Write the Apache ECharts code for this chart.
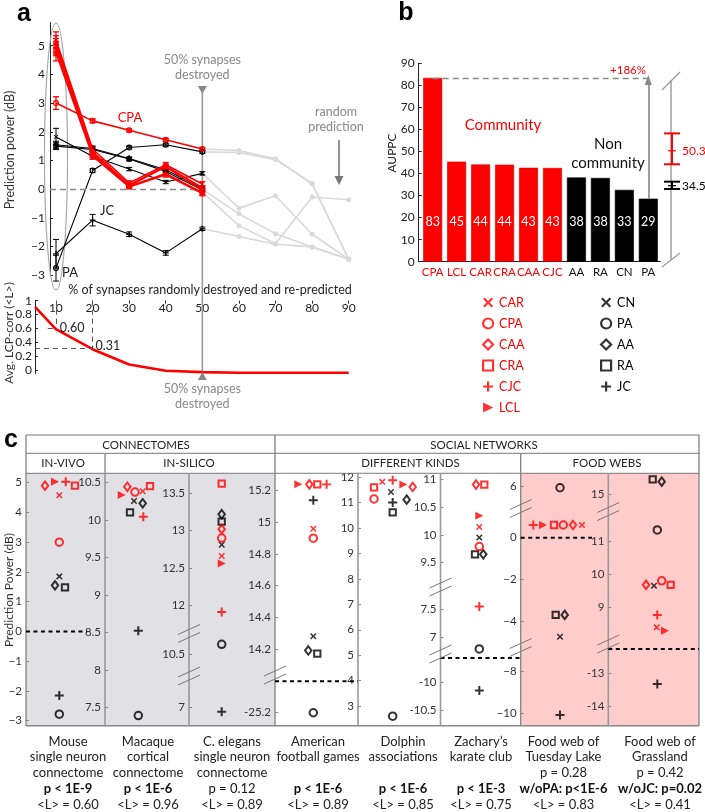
<!DOCTYPE html>
<html><head><meta charset="utf-8">
<script src="https://cdn.jsdelivr.net/npm/echarts@6/dist/echarts.min.js"></script>
<style>html,body{margin:0;padding:0;background:#fff}#c{width:705px;height:812px}</style>
</head><body><div id="c"></div><script>
// ================= DATA =================
// ---- panel a (prediction power vs % synapses removed) ----
const pctRemoved = [10, 20, 30, 40, 50];
const pctRemovedTail = [50, 60, 70, 80, 90];
const ppCPA = [3.0, 2.38, 2.05, 1.72, 1.4];
const ppCAR = [5.2, 1.4, 0.22, 0.85, 0.18];
const ppCAA = [5.1, 1.3, 0.15, 0.8, 0.05];
const ppCRA = [5.0, 1.25, 0.12, 0.78, -0.05];
const ppCJC = [4.9, 1.2, 0.1, 0.55, -0.12];
const ppLCL = [4.75, 1.15, 0.08, 0.5, -0.15];
const ppCN = [1.82, 1.15, 0.7, 0.25, 0.55];
const ppAA = [1.55, 1.42, 1.07, 0.68, 0.02];
const ppRA = [1.5, 1.38, 1.05, 0.62, -0.03];
const ppPA = [-2.75, 0.65, 1.45, 1.55, 1.3];
const ppJC = [-2.25, -1.08, -1.57, -2.22, -1.38];
const errCPA = [0.22, 0.07, 0.05, 0.05, 0.05];
const errCAR = [0.28, 0.1, 0.07, 0.08, 0.08];
const errCAA = [0.25, 0.08, 0.06, 0.07, 0.07];
const errCRA = [0.25, 0.08, 0.06, 0.07, 0.07];
const errCJC = [0.25, 0.08, 0.06, 0.07, 0.07];
const errLCL = [0.28, 0.1, 0.07, 0.08, 0.08];
const errCN = [0.3, 0.1, 0.06, 0.06, 0.06];
const errAA = [0.12, 0.08, 0.05, 0.05, 0.05];
const errRA = [0.12, 0.08, 0.05, 0.05, 0.05];
const errPA = [0.45, 0.07, 0.05, 0.05, 0.05];
const errJC = [0.5, 0.2, 0.08, 0.08, 0.06];
const tail1 = [1.4, 1.35, 1.06, 0.18, -2.44];
const tail2 = [1.3, 1.28, 1.03, 0.2, -2.44];
const tail3 = [0.55, -0.66, -0.23, -1.57, -2.44];
const tail4 = [0.0, -0.86, -1.55, -2.01, -2.44];
const tail5 = [-0.1, -1.27, -1.9, -0.27, -0.37];
const tail6 = [-1.38, -1.65, -1.92, -2.01, -2.44];
const ppTicks = [-3, -2, -1, 0, 1, 2, 3, 4, 5];
// ---- panel a (bottom) average LCP correlation ----
const lcpX = [4.3, 10, 20, 30, 40, 50, 60, 70, 80, 90];
const lcpCorr = [0.91, 0.59, 0.30, 0.08, -0.01, -0.03, -0.04, -0.04, -0.04, -0.04];
const lcpTicks = [0, 0.2, 0.4, 0.6, 0.8, 1];
const pctTicks = [10, 20, 30, 40, 50, 60, 70, 80, 90];
const lcpMarkX = [10, 20];
const lcpMarkL = [0.60, 0.31];
// ---- panel b ----
const bMethods = ['CPA', 'LCL', 'CAR', 'CRA', 'CAA', 'CJC', 'AA', 'RA', 'CN', 'PA'];
const bAUPPC = [83.4, 45.4, 44.1, 44.0, 42.6, 42.5, 38.2, 38.0, 32.6, 28.6];
const bCommunity = [1, 1, 1, 1, 1, 1, 0, 0, 0, 0];
const bTicks = [0, 10, 20, 30, 40, 50, 60, 70, 80, 90];
const groupMean = [50.3, 34.5];
const groupLo = [44.2, 33.0];
const groupHi = [58.2, 36.3];
// ---- panel c ----
const netNames = [
  ['Mouse', 'single neuron', 'connectome'],
  ['Macaque', 'cortical', 'connectome'],
  ['C. elegans', 'single neuron', 'connectome'],
  ['American', 'football games', ''],
  ['Dolphin', 'associations', ''],
  ['Zachary\u2019s', 'karate club', ''],
  ['Food web of', 'Tuesday Lake', 'p = 0.28'],
  ['Food web of', 'Grassland', 'p = 0.42']
];
const netP = ['p < 1E-9', 'p < 1E-6', 'p = 0.12', 'p < 1E-6', 'p < 1E-6', 'p < 1E-3', 'w/oPA: p<1E-6', 'w/oJC: p=0.02'];
const netPBold = [1, 1, 0, 1, 1, 1, 1, 1];
const netL = ['0.60', '0.96', '0.89', '0.89', '0.85', '0.75', '0.83', '0.41'];
const pcCAR = [4.58, 10.38, 12.66, 14.96, 11.82, 10.14, 0.61, 8.4];
const pcCPA = [3.0, 10.37, 12.9, 14.9, 11.15, 9.79, 0.61, 9.8];
const pcCAA = [4.9, 10.44, 13.02, 15.24, 11.62, 10.9, 0.61, 9.68];
const pcCRA = [4.9, 10.45, 13.63, 15.24, 11.6, 10.9, 0.61, 9.68];
const pcCJC = [5.03, 10.04, 11.91, 15.24, 11.88, 7.55, 0.61, 8.77];
const pcLCL = [5.03, 10.33, 12.56, 15.24, 11.72, 10.34, 0.61, 8.3];
const pcCN = [1.85, 10.25, 12.81, 14.28, 11.42, 9.95, -4.72, 9.65];
const pcPA = [-2.78, 7.39, 10.63, -25.2, 2.6, 6.8, 5.95, 11.33];
const pcAA = [1.55, 10.22, 13.22, 14.19, 11.12, 9.65, -3.68, 15.38];
const pcRA = [1.48, 10.1, 13.12, 14.17, 10.62, 9.65, -3.68, 15.45];
const pcJC = [-2.15, 8.52, 6.94, 15.14, 11.01, -10.14, -10.08, -13.33];
const randomLevel = [0, null, null, -25.0, null, -9.56, 0, -12.27];
const colTicks = [
  [-3, -2, -1, 0, 1, 2, 3, 4, 5],
  [7.5, 8, 8.5, 9, 9.5, 10, 10.5],
  [7, 10.5, 12, 12.5, 13, 13.5],
  [-25.2, 14.2, 14.4, 14.6, 14.8, 15, 15.2],
  [3, 4, 5, 6, 7, 8, 9, 10, 11, 12],
  [-10.5, -10, 7, 7.5, 9.5, 10, 10.5, 11],
  [-10, -8, -4, -2, 0, 6],
  [-14, -13, 9, 10, 11, 15]
];

// ================= LAYOUT / STYLE =================
const FONT = 'Lato, "Open Sans", sans-serif';
const RED = '#ff0000', BLK = '#000000', TAILC = '#d9d9d9';
const SYM = {
  X: 'path://M1.6,0L5,3.4L8.4,0L10,1.6L6.6,5L10,8.4L8.4,10L5,6.6L1.6,10L0,8.4L3.4,5L0,1.6Z',
  PLUS: 'path://M3.9,0H6.1V3.9H10V6.1H6.1V10H3.9V6.1H0V3.9H3.9Z',
  TRI: 'path://M0,0L10,5L0,10Z'
};
const MS = {
  CAR: {sym: SYM.X, size: 6.5, color: RED, hollow: false},
  CPA: {sym: 'circle', size: 7.5, color: RED, hollow: true},
  CAA: {sym: 'diamond', size: [6.5, 8.5], color: RED, hollow: true},
  CRA: {sym: 'rect', size: 6.3, color: RED, hollow: true},
  CJC: {sym: SYM.PLUS, size: 9, color: RED, hollow: false},
  LCL: {sym: SYM.TRI, size: [8, 8], color: RED, hollow: false},
  CN: {sym: SYM.X, size: 6.5, color: BLK, hollow: false},
  PA: {sym: 'circle', size: 7.5, color: BLK, hollow: true},
  AA: {sym: 'diamond', size: [6.5, 8.5], color: BLK, hollow: true},
  RA: {sym: 'rect', size: 6.3, color: BLK, hollow: true},
  JC: {sym: SYM.PLUS, size: 9, color: BLK, hollow: false}
};
function mStyle(m, bw) {
  const s = MS[m];
  return s.hollow ? {color: 'rgba(0,0,0,0)', borderColor: s.color, borderWidth: bw}
                  : {color: s.color, borderWidth: 0};
}
const colX = [[26, 105], [105, 189], [189, 275], [275, 358], [358, 440.5], [440.5, 520.7], [520.7, 608.3], [608.3, 699]];
const colCenter = [59.3, 138.3, 221.7, 313.3, 392.7, 479.3, 560, 657.3];
const labelCenter = [68, 148, 232, 318, 403, 481, 563.5, 660];
const minusUnicode = [1, 0, 0, 0, 0, 0, 1, 0];
const segLayout = [
  [[473.3, 725.7, -3.168, 5.316]],
  [[473.3, 725.7, 7.255, 10.62]],
  [[473.3, 630, 11.669, 13.768], [637, 672, 10.259, 10.728], [680, 725.7, 6.754, 7.365]],
  [[473.3, 672, 14.054, 15.31], [678, 725.7, -25.282, -24.98]],
  [[473.3, 725.7, 2.225, 12.157]],
  [[473.3, 580, 9.191, 11.102], [595, 652, 6.745, 7.755], [655, 725.7, -10.768, -9.505]],
  [[473.3, 505, 5.124, 6.641], [512, 645, -5.115, 1.23], [650, 725.7, -10.593, -6.962]],
  [[473.3, 508, 14.59, 15.63], [515, 642, 7.96, 11.78], [646, 725.7, -14.59, -12.18]]
];
const breakY = [[], [], [633.5, 676], [675], [], [587, 654], [508.5, 647.5], [511.5, 644]];
const randomLineEnd = [27.7, null, null, null, null, null, 32, null];
const jitter = {
  CAR: [0, 4.4, 0, 0, -10.4, 0, 22, -0.6],
  CPA: [0, -3.3, 0, 0, -18.7, 0, 3.3, 4.4],
  CAA: [-14.3, -11, 0, -4, 20, -3.3, 13, -11.3],
  CRA: [15.7, 11.7, 0, 4, -18.7, 5, -6, 13.4],
  CJC: [6.4, 5, 0, 13.3, 0, 0, -26.7, 0],
  LCL: [-4.3, -16.6, 0, -15, 10.6, 0, -17, 7.7],
  CN: [0, -4.3, 0, 0, -1.7, 0, 0, -3.3],
  PA: [0, 0, 0, 0, 0, 0, 0, 0],
  AA: [-4.3, 4.4, 0, -5, 14, 4, 4.7, 4.4],
  RA: [5.7, -8.3, 0, 4, 0, -4.3, -4.3, -4.6],
  JC: [0, 0, 0, 0, 0, 0, 0, 0]
};
const fmtU = v => (v < 0 ? '\u2212' + Math.abs(v) : String(v));
const fmtH = v => String(v);

// ================= BUILD =================
const chart = echarts.init(document.getElementById('c'));
const option = {animation: false, textStyle: {fontFamily: FONT}, grid: [], xAxis: [], yAxis: [], series: [], legend: []};

function errSeries(name, xs, ys, es, color, gi, capW, lw) {
  return {
    type: 'custom', name: name, xAxisIndex: gi, yAxisIndex: gi, z: 3, silent: true,
    data: xs.map((x, i) => [x, ys[i] - es[i], ys[i] + es[i]]),
    renderItem: (params, api) => {
      const lo = api.coord([api.value(0), api.value(1)]);
      const hi = api.coord([api.value(0), api.value(2)]);
      const w = capW / 2, st = {stroke: color, lineWidth: lw};
      return {type: 'group', children: [
        {type: 'line', shape: {x1: lo[0], y1: lo[1], x2: hi[0], y2: hi[1]}, style: st},
        {type: 'line', shape: {x1: lo[0] - w, y1: lo[1], x2: lo[0] + w, y2: lo[1]}, style: st},
        {type: 'line', shape: {x1: hi[0] - w, y1: hi[1], x2: hi[0] + w, y2: hi[1]}, style: st}
      ]};
    }
  };
}

// ---- grid 0: panel a top ----
option.grid.push({left: 50, top: 22.7, width: 298.7, height: 252.6});
option.xAxis.push({type: 'value', gridIndex: 0, min: 8.36, max: 90, show: false});
option.yAxis.push({type: 'value', gridIndex: 0, min: -3, max: 5.8,
  axisLine: {show: true, onZero: false, lineStyle: {color: '#222', width: 1}},
  axisTick: {show: true, inside: true, length: 3, customValues: ppTicks, lineStyle: {color: '#222'}},
  axisLabel: {customValues: ppTicks, formatter: fmtU, fontSize: 12, color: '#222', margin: 5, fontFamily: FONT},
  splitLine: {show: false}});
// ---- grid 1: panel a bottom ----
option.grid.push({left: 35, top: 300.7, width: 313.7, height: 72.8});
option.xAxis.push({type: 'value', gridIndex: 1, min: 4.3, max: 90, position: 'top',
  axisLine: {show: false, onZero: false},
  axisTick: {show: true, inside: true, length: 3, customValues: pctTicks, lineStyle: {color: '#222'}},
  axisLabel: {inside: true, customValues: pctTicks, fontSize: 12, color: '#222', margin: 1, fontFamily: FONT},
  splitLine: {show: false}});
option.yAxis.push({type: 'value', gridIndex: 1, min: -0.05, max: 1,
  axisLine: {show: true, onZero: false, lineStyle: {color: '#222', width: 1}},
  axisTick: {show: true, inside: true, length: 3, customValues: lcpTicks, lineStyle: {color: '#222'}},
  axisLabel: {customValues: lcpTicks, formatter: v => (v === 0 || v === 1 ? String(v) : v.toFixed(1)), fontSize: 12, color: '#222', margin: 3, fontFamily: FONT},
  splitLine: {show: false}});

// tails (gray)
[tail1, tail2, tail3, tail4, tail5, tail6].forEach((t, i) => {
  option.series.push({type: 'line', name: 'tail' + i, xAxisIndex: 0, yAxisIndex: 0, z: 1, silent: true,
    data: pctRemovedTail.map((x, k) => [x, t[k]]),
    symbol: 'circle', symbolSize: 5, itemStyle: {color: TAILC}, lineStyle: {color: TAILC, width: 1.6},
    markLine: i === 0 ? {silent: true, symbol: 'none', label: {show: false},
      data: [
        [{coord: [8.36, 0], lineStyle: {color: '#888', type: [6, 4], width: 1.3}}, {coord: [50, 0]}],
        [{coord: [50, 0], lineStyle: {color: '#ddd', type: [6, 4], width: 1.3}}, {coord: [91.3, 0]}]
      ]} : undefined
  });
});
const aSets = [
  ['CN', ppCN, errCN], ['AA', ppAA, errAA], ['RA', ppRA, errRA], ['PA', ppPA, errPA], ['JC', ppJC, errJC],
  ['CPA', ppCPA, errCPA], ['CAR', ppCAR, errCAR], ['CAA', ppCAA, errCAA], ['CRA', ppCRA, errCRA], ['CJC', ppCJC, errCJC], ['LCL', ppLCL, errLCL]
];
aSets.forEach(([m, ys, es]) => {
  const s = MS[m], isRed = s.color === RED;
  option.series.push(errSeries('a-err-' + m, pctRemoved, ys, es, s.color, 0, 6, isRed ? 1.3 : 1));
  option.series.push({type: 'line', name: 'a-' + m, xAxisIndex: 0, yAxisIndex: 0, z: isRed ? 5 : 4, silent: true,
    data: pctRemoved.map((x, k) => [x, ys[k]]),
    symbol: s.sym, symbolSize: Array.isArray(s.size) ? s.size.map(v => v * 0.65) : s.size * 0.65,
    itemStyle: mStyle(m, 1.2), lineStyle: {color: s.color, width: isRed ? 1.6 : 1.1}});
});
// LCP curve
option.series.push({type: 'line', name: 'lcp', xAxisIndex: 1, yAxisIndex: 1, z: 3, silent: true,
  data: lcpX.map((x, k) => [x, lcpCorr[k]]), symbol: 'none', lineStyle: {color: RED, width: 2.6},
  markLine: {silent: true, symbol: 'none', label: {show: false}, lineStyle: {color: '#555', type: [5, 4], width: 1},
    data: [
      [{coord: [lcpMarkX[1], 1]}, {coord: [lcpMarkX[1], lcpMarkL[1]]}],
      [{coord: [4.3, lcpMarkL[1]]}, {coord: [lcpMarkX[1], lcpMarkL[1]]}],
      [{coord: [lcpMarkX[0], 1]}, {coord: [lcpMarkX[0], lcpMarkL[0]]}],
      [{coord: [7.8, lcpMarkL[0]]}, {coord: [lcpMarkX[0], lcpMarkL[0]]}]
    ]}});

// ---- grid 2: panel b bars ----
option.grid.push({left: 420.7, top: 63.3, width: 239.6, height: 198.4});
option.xAxis.push({type: 'category', gridIndex: 2, data: bMethods,
  axisLine: {show: true, onZero: false, lineStyle: {color: '#222'}}, axisTick: {show: false},
  axisLabel: {interval: 0, margin: 5, formatter: (v) => (bCommunity[bMethods.indexOf(v)] ? '{r|' + v + '}' : '{k|' + v + '}'),
    rich: {r: {color: RED, fontSize: 11.5, fontFamily: FONT}, k: {color: '#111', fontSize: 11.5, fontFamily: FONT}}}});
option.yAxis.push({type: 'value', gridIndex: 2, min: 0, max: 90, offset: 2,
  axisLine: {show: true, onZero: false, lineStyle: {color: '#222'}},
  axisTick: {show: true, inside: true, length: 3, customValues: bTicks, lineStyle: {color: '#222'}},
  axisLabel: {customValues: bTicks, fontSize: 12, color: '#222', margin: 4, fontFamily: FONT},
  splitLine: {show: false}});
option.series.push({type: 'bar', name: 'AUPPC', xAxisIndex: 2, yAxisIndex: 2, barWidth: 19, silent: true,
  data: bAUPPC.map((v, i) => ({value: v, itemStyle: {color: bCommunity[i] ? RED : BLK, borderColor: bCommunity[i] ? '#c00' : '#000', borderWidth: 0.6}})),
  label: {show: true, position: 'insideBottom', distance: 33, color: '#fff', fontSize: 12.5, fontFamily: FONT, formatter: p => Math.round(p.value)},
  markLine: {silent: true, label: {show: false},
    data: [
      [{coord: [0, bAUPPC[0]], symbol: 'none', lineStyle: {color: '#888', type: [6, 4], width: 1.3}}, {coord: [bMethods.length - 1, bAUPPC[0]], symbol: 'none'}],
      [{coord: [bMethods.length - 1, bAUPPC[bMethods.length - 1]], symbol: 'none', lineStyle: {color: '#888', type: 'solid', width: 1.6}},
       {coord: [bMethods.length - 1, bAUPPC[0] - 1], symbol: 'triangle', symbolSize: [7, 10]}]
    ]}});
// ---- grid 3: panel b group summary ----
option.grid.push({left: 662, top: 63.3, width: 20, height: 198.4});
option.xAxis.push({type: 'value', gridIndex: 3, min: 0, max: 1, show: false});
option.yAxis.push({type: 'value', gridIndex: 3, min: 0, max: 90, show: false});
option.series.push({type: 'custom', name: 'group', xAxisIndex: 3, yAxisIndex: 3, z: 5, silent: true,
  data: groupMean.map((m, i) => [0.5, m, groupLo[i], groupHi[i], i]),
  renderItem: (params, api) => {
    const c = api.value(4) === 0 ? RED : BLK;
    const mid = api.coord([api.value(0), api.value(1)]);
    const lo = api.coord([api.value(0), api.value(2)]);
    const hi = api.coord([api.value(0), api.value(3)]);
    const st = {stroke: c, lineWidth: 2};
    return {type: 'group', children: [
      {type: 'line', shape: {x1: lo[0], y1: lo[1], x2: hi[0], y2: hi[1]}, style: st},
      {type: 'line', shape: {x1: lo[0] - 8, y1: lo[1], x2: lo[0] + 8, y2: lo[1]}, style: st},
      {type: 'line', shape: {x1: hi[0] - 8, y1: hi[1], x2: hi[0] + 8, y2: hi[1]}, style: st},
      {type: 'line', shape: {x1: mid[0] - 4, y1: mid[1], x2: mid[0] + 4, y2: mid[1]}, style: {stroke: c, lineWidth: 1.2}},
      {type: 'text', x: mid[0] + 10, y: mid[1], style: {text: api.value(1).toFixed(1), fill: c, font: '12px ' + FONT, verticalAlign: 'middle', textVerticalAlign: 'middle', align: 'left'}}
    ]};
  }});

// ---- panel c grids ----
const pcValues = {CAR: pcCAR, CPA: pcCPA, CAA: pcCAA, CRA: pcCRA, CJC: pcCJC, LCL: pcLCL, CN: pcCN, PA: pcPA, AA: pcAA, RA: pcRA, JC: pcJC};
const drawOrder = ['CN', 'PA', 'AA', 'RA', 'JC', 'CPA', 'CAA', 'CRA', 'CAR', 'CJC', 'LCL'];
segLayout.forEach((segs, c) => {
  segs.forEach(([t, b, mn, mx]) => {
    const gi = option.grid.length;
    option.grid.push({left: colX[c][0], top: t, width: colX[c][1] - colX[c][0], height: b - t});
    option.xAxis.push({type: 'value', gridIndex: gi, min: colX[c][0] - colCenter[c], max: colX[c][1] - colCenter[c], show: false});
    const tv = colTicks[c].filter(v => v >= mn && v <= mx);
    option.yAxis.push({type: 'value', gridIndex: gi, min: mn, max: mx, position: 'left',
      axisLine: {show: false, onZero: false},
      axisTick: {show: tv.length > 0, inside: true, length: 3, customValues: tv, lineStyle: {color: '#888'}},
      axisLabel: {show: tv.length > 0, customValues: tv, formatter: minusUnicode[c] ? fmtU : fmtH, fontSize: 11.5, color: '#333', margin: 4, fontFamily: FONT},
      splitLine: {show: false}});
    drawOrder.forEach(m => {
      const v = pcValues[m][c];
      if (v == null || v < mn || v > mx) return;
      const s = MS[m];
      option.series.push({type: 'scatter', name: m, xAxisIndex: gi, yAxisIndex: gi, z: 4, silent: true,
        symbol: s.sym, symbolSize: s.size, itemStyle: mStyle(m, 2),
        data: [[jitter[m][c], v]]});
    });
    const rl = randomLevel[c];
    if (rl != null && rl >= mn && rl <= mx) {
      const x0 = colX[c][0] - colCenter[c];
      const x1 = randomLineEnd[c] != null ? randomLineEnd[c] : colX[c][1] - colCenter[c];
      option.series.push({type: 'line', name: 'random' + c, xAxisIndex: gi, yAxisIndex: gi, z: 3, silent: true,
        symbol: 'none', data: [[x0, rl], [x1, rl]], lineStyle: {color: '#000', width: 2, type: [4, 3.5]}});
    }
  });
});

// legends (panel b)
function legendItems(list, color) {
  return list.map(m => {
    const s = MS[m];
    return {name: m, icon: s.sym, textStyle: {color: color},
      itemStyle: s.hollow ? {color: 'rgba(0,0,0,0)', borderColor: color, borderWidth: 2.2} : {color: color, borderWidth: 0}};
  });
}
option.legend.push({left: 477, top: 291, orient: 'vertical', itemWidth: 10, itemHeight: 10, itemGap: 8, selectedMode: false,
  textStyle: {fontSize: 12.5, fontFamily: FONT, lineHeight: 11, padding: [0, 0, 0, 1]},
  data: legendItems(['CAR', 'CPA', 'CAA', 'CRA', 'CJC', 'LCL'], RED)});
option.legend.push({left: 595, top: 291, orient: 'vertical', itemWidth: 10, itemHeight: 10, itemGap: 8, selectedMode: false,
  textStyle: {fontSize: 12.5, fontFamily: FONT, lineHeight: 11, padding: [0, 0, 0, 1]},
  data: legendItems(['CN', 'PA', 'AA', 'RA', 'JC'], BLK)});

chart.setOption(option);

// ================= ANNOTATIONS (graphic) =================
function txt(x, y, text, o) {
  o = o || {};
  return {type: 'text', x: x, y: y, z: o.z || 10, rotation: o.rot || 0, silent: true,
    style: {text: text, fill: o.color || '#222', font: (o.weight || 'normal') + ' ' + (o.size || 12) + 'px ' + (o.family || FONT),
      align: o.align || 'center', textAlign: o.align || 'center', verticalAlign: 'middle', textVerticalAlign: 'middle'}};
}
function ln(x1, y1, x2, y2, color, w, dash, z) {
  return {type: 'line', z: z == null ? 6 : z, silent: true, shape: {x1: x1, y1: y1, x2: x2, y2: y2},
    style: {stroke: color, lineWidth: w, lineDash: dash || null}};
}
const G = [];
const pA = (x, y) => chart.convertToPixel({gridIndex: 0}, [x, y]);
const pL = (x, y) => chart.convertToPixel({gridIndex: 1}, [x, y]);
const LET = '"Liberation Sans", Arial, sans-serif';
G.push(txt(24, 14, 'a', {size: 25, weight: 'bold', family: LET, color: '#000'}));
G.push(txt(406, 13, 'b', {size: 25, weight: 'bold', family: LET, color: '#000'}));
G.push(txt(11, 440, 'c', {size: 25, weight: 'bold', family: LET, color: '#000'}));
// panel a
G.push(txt(10, 150, 'Prediction power (dB)', {rot: Math.PI / 2, size: 12.5, color: '#333'}));
G.push(txt(9, 333, 'Avg. LCP-corr (<L>)', {rot: Math.PI / 2, size: 12, color: '#333'}));
G.push(txt(210, 290, '% of synapses randomly destroyed and re-predicted', {size: 12.5, color: '#222'}));
const e10 = pA(10, 0);
G.push({type: 'ellipse', z: 2, silent: true, shape: {cx: e10[0], cy: 156.5, rx: 11.5, ry: 133.5}, style: {fill: 'none', stroke: '#aaa', lineWidth: 1.2}});
G.push(txt(130, 118, 'CPA', {color: RED, size: 13}));
G.push(txt(100, 211, 'JC', {size: 13, align: 'left', color: '#222'}));
G.push(txt(62, 273, 'PA', {size: 13, align: 'left', color: '#222'}));
const x50 = pA(50, 0)[0];
G.push(ln(x50, 92, x50, 375, '#999', 1.6, null, 2));
G.push({type: 'polygon', z: 6, silent: true, shape: {points: [[x50 - 4.5, 86], [x50 + 4.5, 86], [x50, 94]]}, style: {fill: '#888'}});
G.push({type: 'polygon', z: 6, silent: true, shape: {points: [[x50 - 4.5, 380], [x50 + 4.5, 380], [x50, 372]]}, style: {fill: '#888'}});
G.push(txt(x50, 60, '50% synapses', {color: '#888', size: 12.5}));
G.push(txt(x50, 75, 'destroyed', {color: '#888', size: 12.5}));
G.push(txt(x50, 389, '50% synapses', {color: '#888', size: 12.5}));
G.push(txt(x50, 404, 'destroyed', {color: '#888', size: 12.5}));
G.push(txt(336, 112, 'random', {color: '#888', size: 12.5}));
G.push(txt(336, 127, 'prediction', {color: '#888', size: 12.5}));
G.push(ln(339, 140, 339, 178, '#777', 1.6));
G.push({type: 'polygon', z: 6, silent: true, shape: {points: [[334.5, 176], [343.5, 176], [339, 185]]}, style: {fill: '#777'}});
const l10 = pL(lcpMarkX[0], lcpMarkL[0]), l20 = pL(lcpMarkX[1], lcpMarkL[1]);
G.push(txt(l10[0] + 4, l10[1], lcpMarkL[0].toFixed(2), {align: 'left', size: 12.5}));
G.push(txt(l20[0] + 3, l20[1] - 3, lcpMarkL[1].toFixed(2), {align: 'left', size: 12.5}));
// panel b
G.push(txt(392, 153, 'AUPPC', {rot: Math.PI / 2, size: 12, color: '#222'}));
G.push(txt(503, 125, 'Community', {color: RED, size: 15}));
G.push(txt(608, 144, 'Non', {color: '#111', size: 15}));
G.push(txt(608, 163, 'community', {color: '#111', size: 15}));
G.push(txt(628, 70, '+186%', {color: RED, size: 11.5}));
G.push(ln(671, 80, 671, 260, '#999', 1.4, null, 1));
G.push(ln(662, 90, 680, 72, '#999', 1.2, null, 1));
G.push(ln(662, 267, 680, 253, '#999', 1.2, null, 1));
// panel c frame
G.push({type: 'rect', z: 0, silent: true, shape: {x: 26, y: 473.3, width: 249, height: 252.4}, style: {fill: '#e0e0e5'}});
G.push({type: 'rect', z: 0, silent: true, shape: {x: 520.7, y: 473.3, width: 178.3, height: 252.4}, style: {fill: '#ffcccc'}});
const FR = '#777';
G.push(ln(26, 435, 699, 435, FR, 1.2, null, 1));
G.push(ln(26, 453.3, 699, 453.3, FR, 1, null, 1));
G.push(ln(26, 473.3, 699, 473.3, FR, 1, null, 1));
G.push(ln(26, 725.7, 699, 725.7, '#888', 1.4, null, 1));
G.push(ln(26, 435, 26, 725.7, FR, 1.2, null, 1));
G.push(ln(699, 435, 699, 725.7, FR, 1.2, null, 1));
G.push(ln(275, 435, 275, 725.7, '#888', 1.4, null, 1));
G.push(ln(105, 453.3, 105, 725.7, '#999', 1.6, null, 1));
G.push(ln(520.7, 453.3, 520.7, 725.7, '#888', 1.4, null, 1));
[189, 358, 440.5, 608.3].forEach(x => G.push(ln(x, 473.3, x, 725.7, '#999', 1.6, null, 1)));
G.push(txt(146, 445, 'CONNECTOMES', {size: 11.5, color: '#222'}));
G.push(txt(484, 445, 'SOCIAL NETWORKS', {size: 11.5, color: '#222'}));
G.push(txt(63, 463.5, 'IN-VIVO', {size: 11.5, color: '#222'}));
G.push(txt(189, 463.5, 'IN-SILICO', {size: 11.5, color: '#222'}));
G.push(txt(410.5, 463.5, 'DIFFERENT KINDS', {size: 11.5, color: '#222'}));
G.push(txt(607, 463.5, 'FOOD WEBS', {size: 11.5, color: '#222'}));
G.push(txt(9, 590, 'Prediction Power (dB)', {rot: Math.PI / 2, size: 12, color: '#333'}));
// break marks
breakY.forEach((ys, c) => {
  const ax = colX[c][0];
  ys.forEach(y => {
    G.push(ln(ax - 11, y + 1, ax + 11, y - 9, '#777', 1, null, 7));
    G.push(ln(ax - 11, y + 9, ax + 11, y - 1, '#777', 1, null, 7));
  });
});
// bottom labels
netNames.forEach((lines, c) => {
  const cx = labelCenter[c];
  lines.forEach((s, k) => { if (s) G.push(txt(cx, 741.7 + k * 15.6, s, {size: 13, color: '#222'})); });
  G.push(txt(cx, 789.3, netP[c], {size: 13, color: '#111', weight: netPBold[c] ? 'bold' : 'normal'}));
  G.push(txt(cx, 804.5, '<L> = ' + netL[c], {size: 13, color: '#222'}));
});
chart.setOption({graphic: {elements: G}});
</script></body></html>
